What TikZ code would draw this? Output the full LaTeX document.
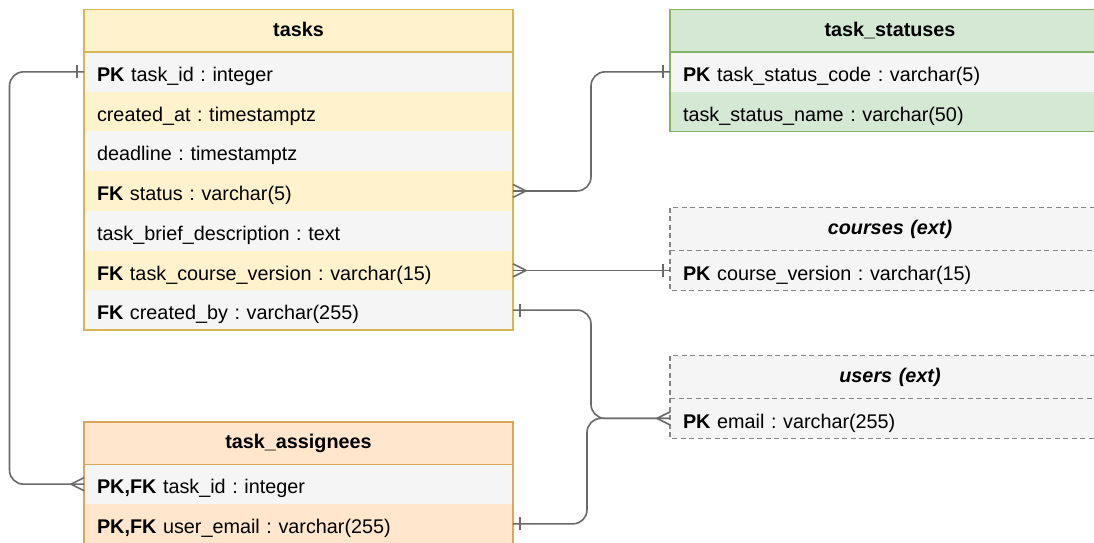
\documentclass[tikz,border=0pt]{standalone}
\usepackage{fontspec}
\setmainfont{Liberation Sans}
\usetikzlibrary{calc}
\frenchspacing
\definecolor{yelfill}{HTML}{FFF2CC}
\definecolor{yelline}{HTML}{D6B656}
\definecolor{grnfill}{HTML}{D5E8D4}
\definecolor{grnline}{HTML}{82B366}
\definecolor{orgfill}{HTML}{FFE6CC}
\definecolor{orgline}{HTML}{D9A65A}
\definecolor{grayfill}{HTML}{F5F5F5}
\definecolor{dashline}{HTML}{858585}
\definecolor{connline}{HTML}{6A6A6A}
\newcommand\crowfoot[2]{\draw[conn] ($(#1)+(#2*13,0)$) -- ($(#1)+(0,-6.5)$) ($(#1)+(#2*13,0)$) -- ($(#1)+(0,6.5)$);}
\newcommand\erbar[2]{\draw[conn] ($(#1)+(#2*7,-6.5)$) -- ($(#1)+(#2*7,6.5)$);}
\tikzset{
  base/.style={anchor=north west, inner xsep=13pt, inner ysep=0pt, outer sep=0pt,
    font=\fontsize{19.8}{23}\selectfont},
  row/.style={base, minimum width=#1, text width=#1-26pt, align=left, minimum height=39.7pt,
    text height=19.4pt, text depth=0pt},
  row/.default=429pt,
  ttl/.style={base, minimum width=#1, text width=#1-26pt, align=center, minimum height=42.3pt,
    text height=15.5pt, text depth=4pt,
    font=\fontsize{19.8}{23}\selectfont\bfseries, line width=1.3pt},
  ttl/.default=429pt,
  extbox/.style={draw=dashline, line width=1.2pt, dash pattern=on 5pt off 3.5pt},
  conn/.style={draw=connline, line width=1.6pt, rounded corners=14pt},
}
\begin{document}
\begin{tikzpicture}[x=1pt,y=-1pt]
\useasboundingbox (0,0) rectangle (1094,542);
\clip (0,0) rectangle (1094,542);
\fill[white] (0,0) rectangle (1094,542);

% ---------- tasks ----------
\node[row, fill=grayfill] (t1) at (84,52) {\textbf{PK} task\_id : integer};
\node[row, fill=yelfill] (t2) at (t1.south west) {created\_at : timestamptz};
\node[row, fill=grayfill] (t3) at (t2.south west) {deadline : timestamptz};
\node[row, fill=yelfill] (t4) at (t3.south west) {\textbf{FK} status : varchar(5)};
\node[row, fill=grayfill] (t5) at (t4.south west) {task\_brief\_description : text};
\node[row, fill=yelfill] (t6) at (t5.south west) {\textbf{FK} task\_course\_version : varchar(15)};
\node[row, fill=grayfill] (t7) at (t6.south west) {\textbf{FK} created\_by : varchar(255)};
\node[ttl, fill=yelfill, draw=yelline, anchor=south west] (t0) at (t1.north west) {tasks};
\draw[yelline, line width=1.3pt] (t0.north west) rectangle (t7.south east);

% ---------- task_statuses ----------
\node[row=440pt, fill=grayfill] (s1) at (670,52) {\textbf{PK} task\_status\_code : varchar(5)};
\node[row=440pt, fill=grnfill] (s2) at (s1.south west) {task\_status\_name : varchar(50)};
\node[ttl=440pt, fill=grnfill, draw=grnline, anchor=south west] (s0) at (s1.north west) {task\_statuses};
\draw[grnline, line width=1.3pt] (s0.north west) rectangle (s2.south east);

% ---------- courses (ext) ----------
\node[ttl=440pt, fill=grayfill, anchor=north west, font=\fontsize{19.8}{23}\selectfont\bfseries\itshape, minimum height=43pt] (c0) at (670,207.5) {courses (ext)};
\node[row=440pt, fill=grayfill] (c1) at (c0.south west) {\textbf{PK} course\_version : varchar(15)};
\draw[extbox] (c0.north west) rectangle (c1.south east);
\draw[extbox] (c0.south west) -- (c0.south east);

% ---------- users (ext) ----------
\node[ttl=440pt, fill=grayfill, anchor=north west, font=\fontsize{19.8}{23}\selectfont\bfseries\itshape, minimum height=43pt] (u0) at (670,355.5) {users (ext)};
\node[row=440pt, fill=grayfill] (u1) at (u0.south west) {\textbf{PK} email : varchar(255)};
\draw[extbox] (u0.north west) rectangle (u1.south east);
\draw[extbox] (u0.south west) -- (u0.south east);

% ---------- task_assignees ----------
\node[row, fill=grayfill] (a1) at (84,464.3) {\textbf{PK,FK} task\_id : integer};
\node[row, fill=orgfill] (a2) at (a1.south west) {\textbf{PK,FK} user\_email : varchar(255)};
\node[ttl, fill=orgfill, draw=orgline, anchor=south west] (a0) at (a1.north west) {task\_assignees};
\draw[orgline, line width=1.3pt] (a0.north west) rectangle (a2.south east);

% ---------- connectors ----------
\draw[conn] (t1.west) -- ++(-74.5,0) |- (a1.west);
\erbar{t1.west}{-1}
\crowfoot{a1.west}{-1}

\draw[conn] (t4.east) -- ++(78,0) |- (s1.west);
\crowfoot{t4.east}{1}
\erbar{s1.west}{-1}

\draw[conn] (t6.east) -- (t6.east -| c1.west);
\crowfoot{t6.east}{1}
\erbar{c1.west}{-1}

\draw[conn] (t7.east) -- ++(78,0) |- (u1.west);
\erbar{t7.east}{1}
\crowfoot{u1.west}{-1}

\draw[conn] (a2.east) -- ++(74,0) |- (u1.west);
\erbar{a2.east}{1}
\end{tikzpicture}
\end{document}
